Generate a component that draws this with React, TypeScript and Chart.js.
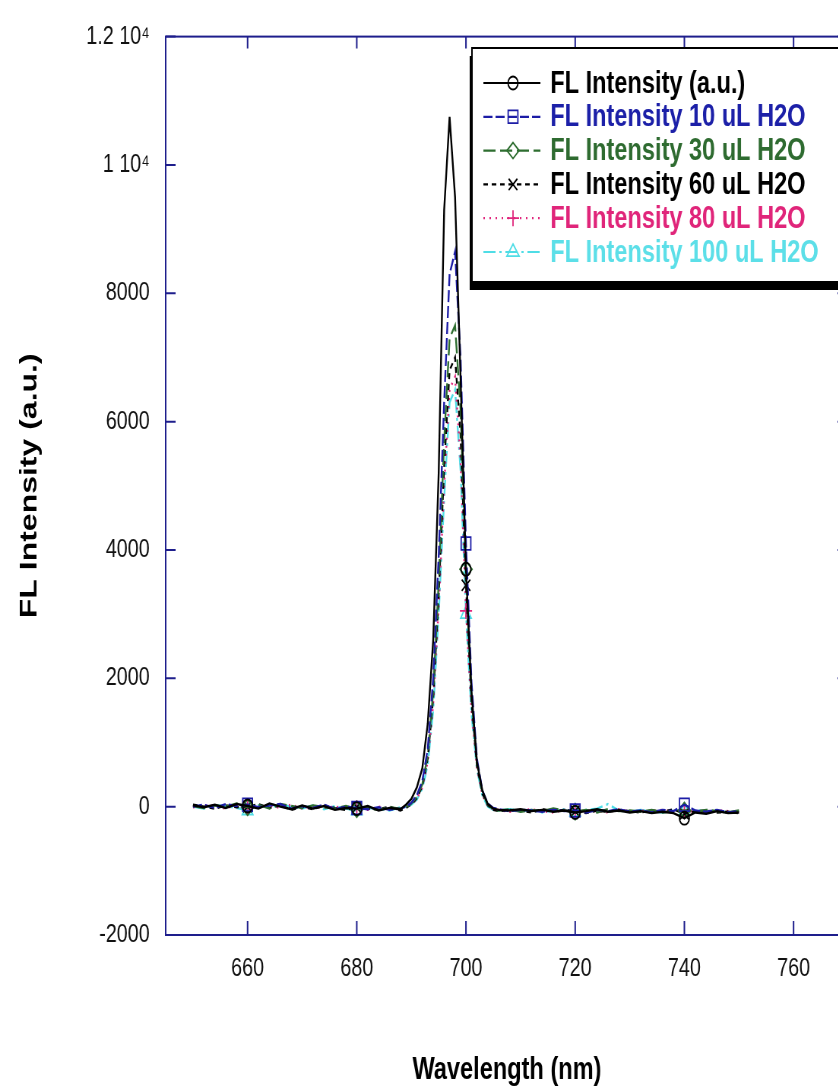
import React, { useEffect, useRef } from 'react';
import { Chart, registerables } from 'chart.js';

Chart.register(...registerables);

// ---------------- data ----------------
const wavelength = [
  650, 652, 654, 656, 658, 660, 662, 664, 666, 668, 670, 672, 674, 676, 678, 680, 682, 684, 686, 688,
  689, 690, 691, 692, 693, 694, 695, 696, 697, 698, 699, 700, 701, 702, 703, 704, 705,
  706, 708, 710, 712, 714, 716, 718, 720, 722, 724, 726, 728, 730, 732, 734, 736, 738, 740, 742, 744, 746, 748, 750,
];

const flAU = [
  20, -10, 30, -20, 40, 10, -30, 50, 0, -40, 20, -30, 10, -50, -20, -30, 10, -60, -20, -40,
  30, 120, 300, 600, 1300, 2600, 5200, 9300, 10750, 9500, 6700, 3700, 1800, 700, 250, 40, -30,
  -50, -60, -40, -70, -50, -80, -60, -90, -70, -40, -80, -60, -90, -70, -100, -80, -100, -180, -90, -110, -70, -100, -90,
];
const fl10 = [
  0, 30, -20, 40, 10, 30, -10, 20, 40, -30, 10, -20, 30, -40, 0, -20, -40, -10, -50, -30,
  0, 60, 180, 400, 900, 2000, 3900, 6300, 8300, 8650, 7000, 4100, 1950, 750, 250, 50, -20,
  -40, -70, -50, -60, -80, -50, -70, -60, -90, -50, -70, -40, -80, -60, -90, -50, -70, 30, -60, -80, -50, -90, -70,
];
const fl30 = [
  10, -20, 20, 0, 50, -10, 30, -30, 40, 10, -20, 20, -10, -30, 10, -40, -20, -50, -10, -30,
  -10, 50, 150, 350, 800, 1800, 3500, 5700, 7300, 7500, 6200, 3700, 1750, 680, 220, 30, -40,
  -60, -40, -80, -50, -70, -30, -60, -80, -50, -90, -40, -70, -60, -80, -50, -90, -70, -60, -80, -50, -70, -90, -60,
];
const fl60 = [
  30, 0, -30, 20, -10, 0, 40, -20, 20, -50, 0, -40, 20, -20, -50, -10, -30, -40, 0, -60,
  -20, 40, 130, 320, 750, 1700, 3300, 5300, 6800, 7000, 5800, 3450, 1650, 640, 200, 20, -50,
  -70, -50, -60, -90, -40, -70, -50, -70, -100, -60, -80, -50, -70, -90, -60, -80, -40, -110, -70, -60, -90, -80, -100,
];
const fl80 = [
  -10, 20, 10, -30, 30, -20, 10, 20, -20, 30, -30, 10, -20, 0, -30, -20, -50, 0, -40, -20,
  10, 30, 120, 300, 700, 1600, 3100, 5000, 6500, 6700, 5400, 3050, 1500, 600, 180, 10, -40,
  -50, -80, -60, -40, -70, -90, -50, -80, -60, -70, -90, -40, -80, -60, -70, -50, -90, -60, -80, -100, -60, -70, -90,
];
const fl100 = [
  0, -30, 20, 10, -20, -60, 20, -10, 30, 0, -30, 20, -40, 10, -30, -60, -20, -30, -60, -10,
  0, 30, 110, 280, 650, 1500, 3000, 4800, 6300, 6500, 5250, 3000, 1450, 580, 170, 0, -50,
  -60, -40, -70, -50, -90, -60, -40, -80, -50, -30, 40, -60, -80, -50, -70, -90, -60, -70, -50, -80, -60, -90, -80,
];

const seriesNames = [
  'FL Intensity (a.u.)',
  'FL Intensity 10 uL H2O',
  'FL Intensity 30 uL H2O',
  'FL Intensity 60 uL H2O',
  'FL Intensity 80 uL H2O',
  'FL Intensity 100 uL H2O',
];
const seriesValues = [flAU, fl10, fl30, fl60, fl80, fl100];

const markerWavelengths = [660, 680, 700, 720, 740];
const xTicks = [660, 680, 700, 720, 740, 760];
const xTickLabels = ['660', '680', '700', '720', '740', '760'];
const yTicks = [-2000, 0, 2000, 4000, 6000, 8000, 10000, 12000];
const yTickLabels = ['-2000', '0', '2000', '4000', '6000', '8000', '1 10\u2074', '1.2 10\u2074'];

const xTitle = 'Wavelength (nm)';
const yTitle = 'FL Intensity (a.u.)';

// ---------------- styles ----------------
const lineColors = ['#000000', '#1c1ca6', '#2e6e30', '#000000', '#e0267c', '#4fdde6'];
const textColors = ['#000000', '#1c20a8', '#2e6b30', '#000000', '#e0257a', '#5cdfe8'];
const dashes: number[][] = [[], [12, 4], [16, 6], [6, 5], [2, 6], [16, 5, 3, 5]];
const pointStyles = ['circle', 'rect', 'rectRot', 'crossRot', 'cross', 'triangle'];
const pointSizes = [6.5, 9, 8, 8, 8, 8];

const SX = 0.76; // horizontal squeeze of the whole picture
const CW = 1140;
const CH = 1086;
const FRAME = '#1e1e8c';
const FONT = "'Liberation Sans', Arial, Helvetica, sans-serif";

function drawMarker(ctx: CanvasRenderingContext2D, style: string, x: number, y: number, r: number) {
  ctx.beginPath();
  if (style === 'circle') {
    ctx.arc(x, y, r, 0, Math.PI * 2);
  } else if (style === 'rect') {
    const s = r * Math.SQRT1_2;
    ctx.rect(x - s, y - s, 2 * s, 2 * s);
  } else if (style === 'rectRot') {
    ctx.moveTo(x, y - r);
    ctx.lineTo(x + r, y);
    ctx.lineTo(x, y + r);
    ctx.lineTo(x - r, y);
    ctx.closePath();
  } else if (style === 'crossRot') {
    const d = r * Math.SQRT1_2;
    ctx.moveTo(x - d, y - d);
    ctx.lineTo(x + d, y + d);
    ctx.moveTo(x - d, y + d);
    ctx.lineTo(x + d, y - d);
  } else if (style === 'cross') {
    ctx.moveTo(x, y - r);
    ctx.lineTo(x, y + r);
    ctx.moveTo(x - r, y);
    ctx.lineTo(x + r, y);
  } else if (style === 'triangle') {
    const h = r * 1.5;
    ctx.moveTo(x, y - h * 0.66);
    ctx.lineTo(x + r, y + h * 0.34);
    ctx.lineTo(x - r, y + h * 0.34);
    ctx.closePath();
  }
  ctx.stroke();
}

const framePlugin = {
  id: 'frameTicks',
  afterDatasetsDraw(chart: any) {
    const { ctx, chartArea: a, scales } = chart;
    const xs = scales.x;
    const ys = scales.y;
    ctx.save();
    ctx.strokeStyle = FRAME;
    ctx.lineWidth = 2;
    ctx.setLineDash([]);
    ctx.strokeRect(a.left, a.top, a.right - a.left, a.bottom - a.top);
    ctx.beginPath();
    xTicks.forEach((v) => {
      const px = xs.getPixelForValue(v);
      ctx.moveTo(px, a.bottom);
      ctx.lineTo(px, a.bottom - 14);
      ctx.moveTo(px, a.top);
      ctx.lineTo(px, a.top + 12);
    });
    yTicks.forEach((v) => {
      const py = ys.getPixelForValue(v);
      ctx.moveTo(a.left, py);
      ctx.lineTo(a.left + 13, py);
      ctx.moveTo(a.right, py);
      ctx.lineTo(a.right - 14, py);
    });
    ctx.stroke();
    ctx.restore();
  },
};

const legendPlugin = {
  id: 'boxLegend',
  afterDraw(chart: any) {
    const ctx: CanvasRenderingContext2D = chart.ctx;
    const bx = 621;
    const by = 48;
    const bw = 620;
    const bh = 234;
    ctx.save();
    ctx.fillStyle = '#000';
    ctx.fillRect(bx - 3, by + 8, bw, bh);
    ctx.fillStyle = '#fff';
    ctx.fillRect(bx, by, bw, bh);
    ctx.strokeStyle = '#000';
    ctx.lineWidth = 2;
    ctx.strokeRect(bx, by, bw, bh);
    ctx.font = `bold 31px ${FONT}`;
    ctx.textBaseline = 'middle';
    ctx.textAlign = 'left';
    seriesNames.forEach((name, i) => {
      const y = by + 35 + i * 33.8;
      ctx.strokeStyle = lineColors[i];
      ctx.lineWidth = 2.2;
      ctx.setLineDash(dashes[i]);
      ctx.beginPath();
      ctx.moveTo(636, y);
      ctx.lineTo(711, y);
      ctx.stroke();
      ctx.setLineDash([]);
      ctx.lineWidth = 1.8;
      drawMarker(ctx, pointStyles[i], 675, y, pointSizes[i]);
      ctx.fillStyle = textColors[i];
      ctx.fillText(name, 724, y + 1);
    });
    ctx.restore();
  },
};

export default function App() {
  const canvasRef = useRef<HTMLCanvasElement | null>(null);

  useEffect(() => {
    const canvas = canvasRef.current;
    if (!canvas) return;
    const datasets = seriesValues.map((vals, si) => ({
      label: seriesNames[si],
      data: wavelength.map((w, i) => ({ x: w, y: vals[i] })),
      borderColor: lineColors[si],
      borderWidth: 2.4,
      borderDash: dashes[si],
      fill: false,
      tension: 0,
      pointStyle: pointStyles[si],
      pointRadius: (c: any) => (markerWavelengths.includes(wavelength[c.dataIndex]) ? pointSizes[si] : 0),
      pointHoverRadius: 0,
      pointBorderColor: lineColors[si],
      pointBackgroundColor: 'rgba(0,0,0,0)',
      pointBorderWidth: 1.8,
    }));

    const chart = new Chart(canvas, {
      type: 'line',
      data: { datasets },
      options: {
        animation: false,
        responsive: false,
        maintainAspectRatio: false,
        events: [],
        layout: { padding: { top: 34, right: 24, bottom: 0, left: 0 } },
        plugins: { legend: { display: false }, tooltip: { enabled: false } },
        scales: {
          x: {
            type: 'linear',
            min: 645,
            max: 770,
            grid: { display: false, drawTicks: false },
            border: { display: false },
            afterBuildTicks: (s: any) => {
              s.ticks = xTicks.map((v) => ({ value: v }));
            },
            afterFit: (s: any) => {
              s.height = 151;
            },
            ticks: {
              autoSkip: false,
              maxRotation: 0,
              padding: 18,
              color: '#111',
              font: { family: FONT, size: 26 },
              callback: (v: any) => {
                const k = xTicks.indexOf(Number(v));
                return k >= 0 ? xTickLabels[k] : '';
              },
            },
            title: {
              display: true,
              text: xTitle,
              color: '#000',
              font: { family: FONT, size: 31, weight: 'bold', lineHeight: 1 },
              padding: { top: 0, bottom: 0 },
            },
          },
          y: {
            type: 'linear',
            min: -2000,
            max: 12000,
            grid: { display: false, drawTicks: false },
            border: { display: false },
            afterBuildTicks: (s: any) => {
              s.ticks = yTicks.map((v) => ({ value: v }));
            },
            afterFit: (s: any) => {
              s.width = 218;
            },
            ticks: {
              autoSkip: false,
              padding: 21,
              color: '#111',
              font: { family: FONT, size: 26 },
              callback: (v: any) => {
                const k = yTicks.indexOf(Number(v));
                return k >= 0 ? yTickLabels[k] : '';
              },
            },
            title: {
              display: true,
              text: yTitle,
              color: '#000',
              font: { family: FONT, size: 32, weight: 'bold', lineHeight: 1 },
              padding: { top: 23, bottom: 0 },
            },
          },
        },
      },
      plugins: [framePlugin, legendPlugin],
    } as any);

    return () => chart.destroy();
  }, []);

  return (
    <div
      style={{
        position: 'fixed',
        left: 0,
        top: 0,
        width: 838,
        height: 1086,
        overflow: 'hidden',
        background: '#fff',
      }}
    >
      <div
        style={{
          width: CW,
          height: CH,
          transform: `scaleX(${SX})`,
          transformOrigin: '0 0',
        }}
      >
        <canvas ref={canvasRef} width={CW} height={CH} style={{ width: CW, height: CH, display: 'block' }} />
      </div>
    </div>
  );
}
